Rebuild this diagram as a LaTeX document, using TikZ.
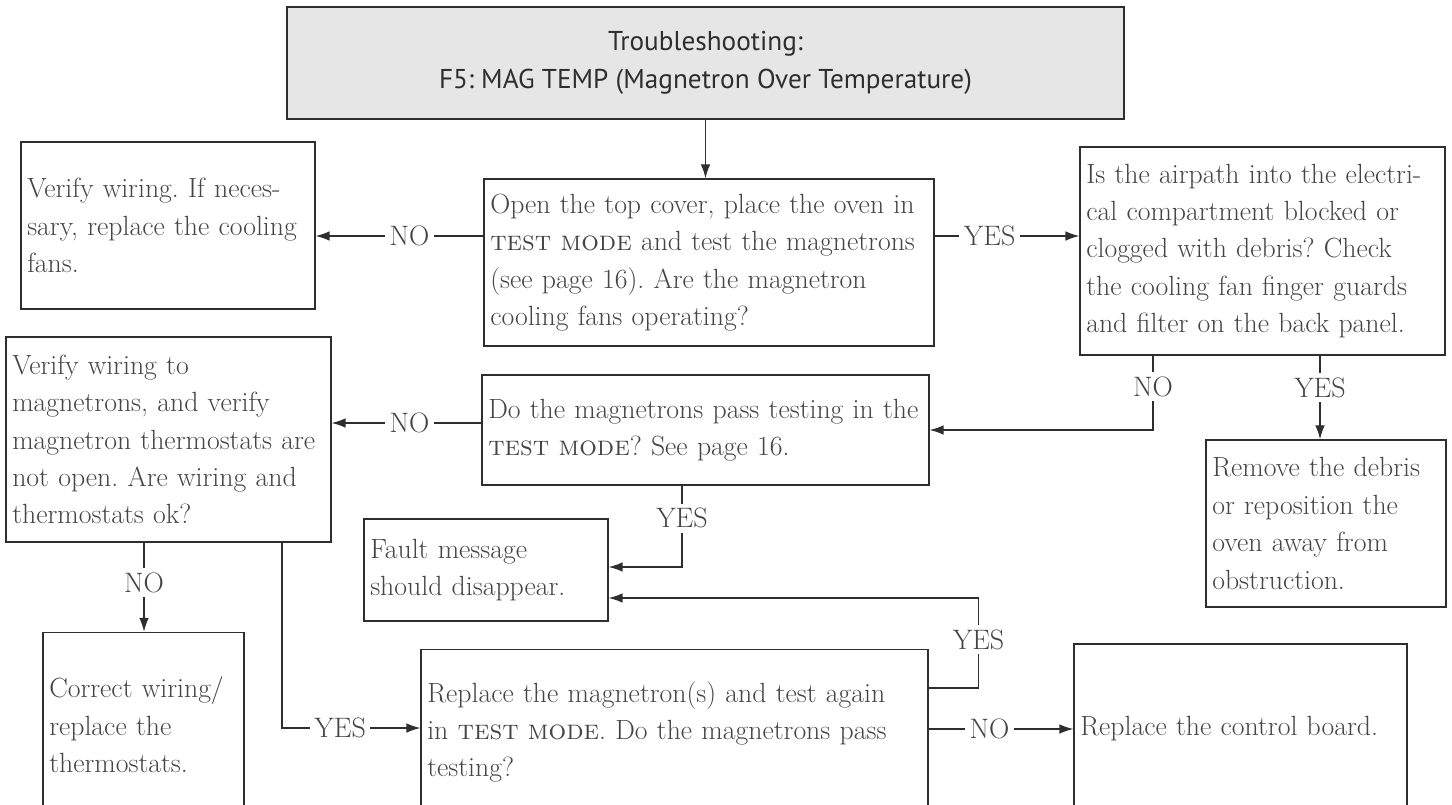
\documentclass[tikz,border=0pt]{standalone}
\usepackage{fontspec}
\usepackage{xcolor}
\usepackage{tikz}
\usetikzlibrary{arrows.meta,positioning,calc}
\newfontfamily\titlefont{PT Sans}
\definecolor{ink}{HTML}{454545}
\definecolor{rule}{HTML}{2E2E2E}
\definecolor{headfill}{HTML}{E6E6E6}
\frenchspacing

\tikzset{
  headbox/.style={draw=rule, line width=0.8pt, fill=headfill, text=rule,
    minimum width=16.74cm, minimum height=2.24cm, align=center,
    font=\titlefont\fontsize{15.5}{21.6}\selectfont},
  stepbox/.style={draw=rule, line width=0.8pt, fill=white, text=ink,
    align=left, inner xsep=3.5pt, font=\fontsize{15.8}{21.3}\selectfont},
  answer/.style={fill=white, text=ink, inner sep=2.5pt,
    font=\fontsize{16}{18}\selectfont},
  flow/.style={draw=rule, line width=0.8pt, -{Latex[length=8pt,width=5.5pt]}}
}

\begin{document}
\begin{tikzpicture}[x=0.02cm, y=-0.02cm]
  \useasboundingbox (0,0) rectangle (1452,804);
  \clip (0,0) rectangle (1452,804);

  \node[headbox] (title) at (705.5,63) {Troubleshooting:\\F5: MAG TEMP (Magnetron Over Temperature)};

  \node[stepbox, text width=5.63cm, minimum height=3.34cm] (fans) at (168,225.5)
    {Verify wiring. If neces-\\sary, replace the cooling\\fans.};
  \node[stepbox, text width=8.75cm, minimum height=3.34cm] (open) at (709,262.5)
    {Open the top cover, place the oven in\\\textsc{test mode} and test the magnetrons\\(see page 16). Are the magnetron\\cooling fans operating?};
  \node[stepbox, text width=7.05cm, minimum height=4.16cm] (air) at (1262.5,251)
    {Is the airpath into the electri-\\cal compartment blocked or\\clogged with debris? Check\\the cooling fan finger guards\\and filter on the back panel.};
  \node[stepbox, text width=6.25cm, minimum height=4.1cm] (wires) at (168.5,439.5)
    {Verify wiring to\\magnetrons, and verify\\magnetron thermostats are\\not open. Are wiring and\\thermostats ok?};
  \node[stepbox, text width=8.69cm, minimum height=2.2cm] (pass) at (705.5,430)
    {Do the magnetrons pass testing in the\\\textsc{test mode}? See page 16.};
  \node[stepbox, text width=4.55cm, minimum height=3.34cm] (debris) at (1326,523.5)
    {Remove the debris\\or reposition the\\oven away from\\obstruction.};
  \node[stepbox, text width=4.63cm, minimum height=2.04cm] (fault) at (486,570)
    {Fault message\\should disappear.};
  \node[stepbox, text width=3.77cm, minimum height=3.7cm] (correct) at (143.5,725)
    {Correct wiring/\\replace the\\thermostats.};
  \node[stepbox, text width=9.89cm, minimum height=3.3cm] (replace) at (674.5,732)
    {Replace the magnetron(s) and test again\\in \textsc{test mode}. Do the magnetrons pass\\testing?};
  \node[stepbox, text width=6.41cm, minimum height=3.4cm] (board) at (1240.5,729)
    {Replace the control board.};

  \draw[flow] (title.south) -- (title.south |- open.north);
  \draw[flow] ([yshift=0.53cm]open.west) -- node[answer, pos=0.44]{NO} ([yshift=0.53cm]open.west -| fans.east);
  \draw[flow] ([yshift=0.53cm]open.east) -- node[answer, pos=0.38]{YES} ([yshift=0.53cm]open.east -| air.west);
  \draw[flow] ([xshift=-2.19cm]air.south) |- node[answer, pos=0.21]{NO} (pass.east);
  \draw[flow] ([xshift=1.15cm]air.south) -- node[answer, pos=0.38]{YES} ([xshift=1.15cm]air.south |- debris.north);
  \draw[flow] ([yshift=0.14cm]pass.west) -- node[answer, pos=0.48]{NO} ([yshift=0.14cm]pass.west -| wires.east);
  \draw[flow] ([xshift=-0.47cm]pass.south) |- node[answer, pos=0.2]{YES} ([yshift=0.06cm]fault.east);
  \draw[flow] ([yshift=0.88cm]replace.east) -- ++(50,0) |- node[answer, pos=0.27]{YES} ([yshift=-0.56cm]fault.east);
  \draw[flow] ([xshift=-0.49cm]wires.south) -- node[answer, pos=0.45]{NO} ([xshift=-0.49cm]wires.south |- correct.north);
  \draw[flow] ([xshift=2.27cm]wires.south) |- node[answer, pos=0.71]{YES} ([yshift=0.08cm]replace.west);
  \draw[flow] ([yshift=0.06cm]replace.east) -- node[answer, pos=0.42]{NO} ([yshift=0.06cm]replace.east -| board.west);
\end{tikzpicture}
\end{document}
